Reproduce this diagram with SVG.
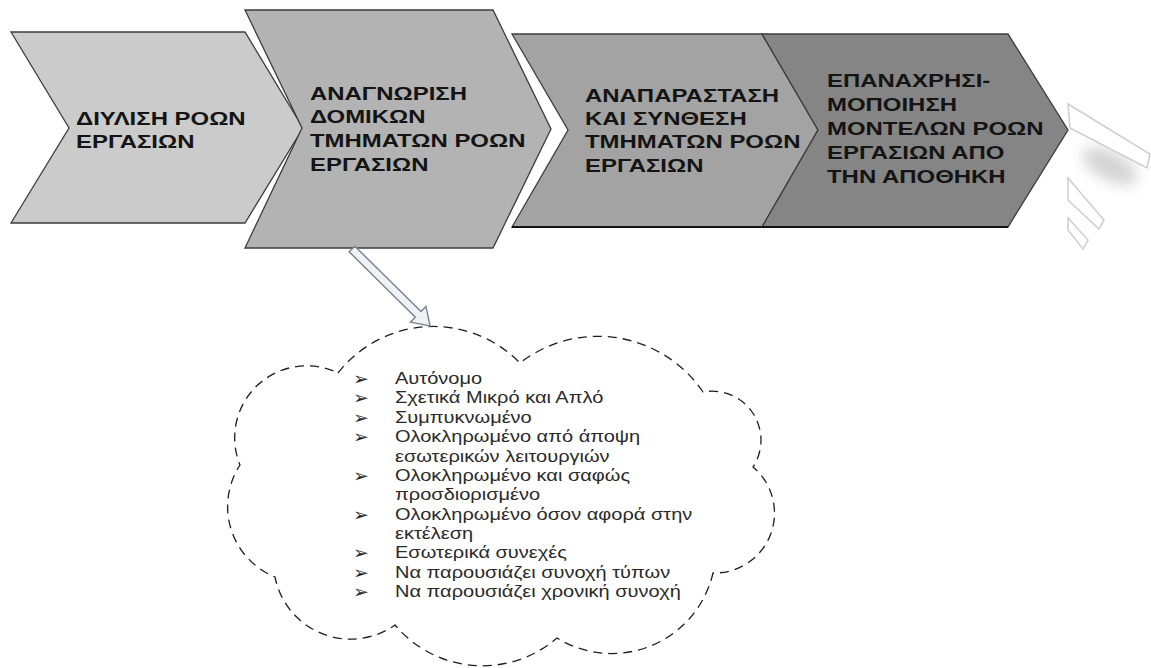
<svg xmlns="http://www.w3.org/2000/svg" width="1151" height="668" viewBox="0 0 1151 668">
  <defs>
    <style>
      .chev { stroke: #3c3c3c; stroke-width: 1.3; stroke-linejoin: miter; }
      .head { font-family: "Liberation Sans", Arial, sans-serif; font-weight: bold; font-size: 19px; fill: #141414; }
      .item { font-family: "Liberation Sans", Arial, sans-serif; font-size: 16px; fill: #2a2a2a; }
      .bullet { font-family: "DejaVu Sans", sans-serif; font-size: 18px; fill: #2a2a2a; }
      .cloud { fill: #ffffff; stroke: #1e1e1e; stroke-width: 1.3; stroke-dasharray: 9 6; }
      .ghost { fill: #ffffff; stroke: #cdcdcd; stroke-width: 1.5; }
    </style>
    <filter id="soft" x="-50%" y="-50%" width="200%" height="200%">
      <feGaussianBlur stdDeviation="7"/>
    </filter>
  </defs>

  <rect width="1151" height="668" fill="#ffffff"/>

  <!-- faded remains of a decorative arrow at the right edge -->
  <g id="faded-arrow">
    <ellipse cx="1110" cy="166" rx="30" ry="14" fill="#d4d4d4" filter="url(#soft)" transform="rotate(28 1110 166)"/>
    <polygon class="ghost" points="1068,104 1150,154 1147,168 1070,128"/>
    <polygon class="ghost" points="1068,178 1104,220 1099,229 1068,200"/>
    <polygon class="ghost" points="1068,218 1088,240 1083,249 1068,230"/>
  </g>

  <!-- process chevrons -->
  <g id="step-filter">
    <polygon class="chev" fill="#cbcbcb" points="11,32 245,32 303,128 245,223 11,223 69,128"/>
    <text class="head" transform="translate(76,0) scale(1.26,1)">
      <tspan x="0" y="125">ΔΙΥΛΙΣΗ ΡΟΩΝ</tspan>
      <tspan x="0" y="148">ΕΡΓΑΣΙΩΝ</tspan>
    </text>
  </g>

  <g id="step-identify">
    <polygon class="chev" fill="#b3b3b3" points="245,10 493,10 551,129 493,248 245,248 302,128"/>
    <text class="head" transform="translate(310,0) scale(1.26,1)">
      <tspan x="0" y="100">ΑΝΑΓΝΩΡΙΣΗ</tspan>
      <tspan x="0" y="123">ΔΟΜΙΚΩΝ</tspan>
      <tspan x="0" y="147">ΤΜΗΜΑΤΩΝ ΡΟΩΝ</tspan>
      <tspan x="0" y="171">ΕΡΓΑΣΙΩΝ</tspan>
    </text>
  </g>

  <g id="step-represent">
    <polygon class="chev" fill="#a3a3a3" points="512,34 762,34 818,130 762,227 512,227 568,130"/>
    <line x1="512" y1="227" x2="762" y2="227" stroke="#111" stroke-width="2"/>
    <text class="head" transform="translate(585,0) scale(1.26,1)">
      <tspan x="0" y="102">ΑΝΑΠΑΡΑΣΤΑΣΗ</tspan>
      <tspan x="0" y="125">ΚΑΙ ΣΥΝΘΕΣΗ</tspan>
      <tspan x="0" y="148">ΤΜΗΜΑΤΩΝ ΡΟΩΝ</tspan>
      <tspan x="0" y="172">ΕΡΓΑΣΙΩΝ</tspan>
    </text>
  </g>

  <g id="step-reuse">
    <polygon class="chev" fill="#858585" points="762,34 1008,34 1068,130 1008,227 762,227 818,130"/>
    <line x1="762" y1="227" x2="1008" y2="227" stroke="#111" stroke-width="2"/>
    <text class="head" transform="translate(827,0) scale(1.26,1)">
      <tspan x="0" y="87">ΕΠΑΝΑΧΡΗΣΙ-</tspan>
      <tspan x="0" y="111">ΜΟΠΟΙΗΣΗ</tspan>
      <tspan x="0" y="135">ΜΟΝΤΕΛΩΝ ΡΟΩΝ</tspan>
      <tspan x="0" y="159">ΕΡΓΑΣΙΩΝ ΑΠΟ</tspan>
      <tspan x="0" y="183">ΤΗΝ ΑΠΟΘΗΚΗ</tspan>
    </text>
  </g>

  <!-- property cloud -->
  <g id="properties">
    <path class="cloud" d="M338,373
      A121,121 0 0 1 520,363
      A127,127 0 0 1 703,392
      A49,49 0 0 1 753,467
      A60,60 0 0 1 713,573
      A104,104 0 0 1 557,638
      A114,114 0 0 1 395,625
      A77,77 0 0 1 275,577
      A76,76 0 0 1 240,465
      A72,72 0 0 1 338,373 Z"/>
    <g class="bullet" transform="translate(353,0) scale(1.05,1)">
      <text x="0" y="385">➢</text>
      <text x="0" y="404">➢</text>
      <text x="0" y="424">➢</text>
      <text x="0" y="443">➢</text>
      <text x="0" y="482">➢</text>
      <text x="0" y="521">➢</text>
      <text x="0" y="559">➢</text>
      <text x="0" y="579">➢</text>
      <text x="0" y="598">➢</text>
    </g>
    <text class="item" transform="translate(395,0) scale(1.25,1)">
      <tspan x="0" y="384">Αυτόνομο</tspan>
      <tspan x="0" y="403">Σχετικά Μικρό και Απλό</tspan>
      <tspan x="0" y="423">Συμπυκνωμένο</tspan>
      <tspan x="0" y="442">Ολοκληρωμένο από άποψη</tspan>
      <tspan x="0" y="462">εσωτερικών λειτουργιών</tspan>
      <tspan x="0" y="481">Ολοκληρωμένο και σαφώς</tspan>
      <tspan x="0" y="500">προσδιορισμένο</tspan>
      <tspan x="0" y="520">Ολοκληρωμένο όσον αφορά στην</tspan>
      <tspan x="0" y="539">εκτέλεση</tspan>
      <tspan x="0" y="558">Εσωτερικά συνεχές</tspan>
      <tspan x="0" y="578">Να παρουσιάζει συνοχή τύπων</tspan>
      <tspan x="0" y="597">Να παρουσιάζει χρονική συνοχή</tspan>
    </text>
  </g>

  <!-- connectors -->
  <g id="connectors">
    <g transform="translate(352,249) rotate(44.6)">
      <polygon points="0,-4 93,-4 93,-11 109.6,0 93,11 93,4 0,4" fill="#eef1f5" stroke="#76838f" stroke-width="1.4" stroke-linejoin="miter"/>
    </g>
  </g>
</svg>
